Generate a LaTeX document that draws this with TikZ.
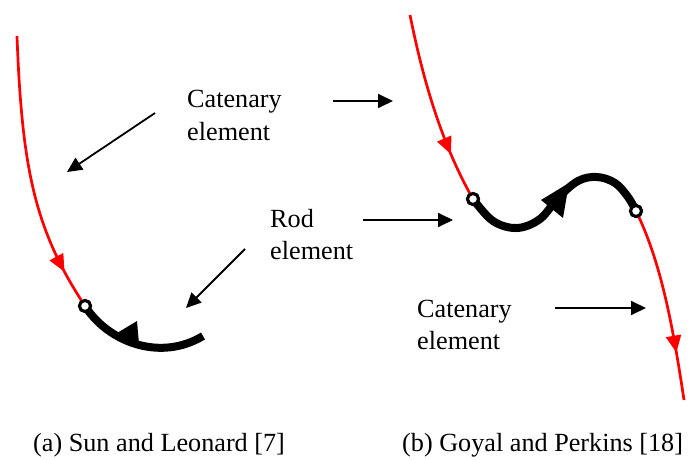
\documentclass[tikz,border=0pt]{standalone}
\usepackage{fontspec}
\setmainfont{Liberation Serif}
\usetikzlibrary{arrows.meta,decorations.markings}
\begin{document}
\begin{tikzpicture}[x=1pt,y=-1pt,
  cable/.style={red, line width=2.7pt, line join=round},
  rod/.style={black, line width=8pt},
  joint/.style={circle, draw=black, fill=white, line width=3pt,
                minimum size=11pt, inner sep=0pt},
  pointer/.style={line width=1.8pt, -{Triangle[length=15pt,width=14pt]}},
  lbl/.style={font=\fontsize{26.2}{32}\selectfont, anchor=base west, inner sep=0pt},
  flow/.style={postaction={decorate}, decoration={markings,
      mark=at position #1 with {\arrow[red]{Triangle[length=17pt,width=15pt]}}}}
]
\useasboundingbox (0,0) rectangle (690,460);

% ---------- (a) catenary ending in a rod ----------
\coordinate (a0) at (17,36);
\node[joint] (ja) at (85,306) {};
\draw[cable, flow=-40pt] (a0) .. controls (22,170) and (35,230) .. (ja.center);
\coordinate (ra) at (203,336);
\draw[rod] (ja.center) .. controls (108,342) and (160,362) .. (ra);
\fill (117,333) -- (137,321) -- (139,344) -- cycle;
\node[joint] at (ja) {};

% ---------- (b) rod between two catenaries ----------
\coordinate (b0) at (410,15);
\node[joint] (jb1) at (473,199) {};
\node[joint] (jb2) at (636,211) {};
\coordinate (b9) at (684,400);
\draw[cable, flow=-50pt] (b0) .. controls (425,90) and (445,150) .. (jb1.center);
\draw[rod] plot[smooth, tension=0.6] coordinates
  {(jb1.center) (493,221) (517,228) (540,219) (558,198) (578,181) (597,177)
   (615,183) (628,197) (jb2.center)};
\fill (541,200) -- (569,183) -- (563,218) -- cycle;
\draw[cable, flow=-48pt] (jb2.center) .. controls (660,260) and (672,320) .. (b9);
\node[joint] at (jb1) {};
\node[joint] at (jb2) {};

% ---------- labels ----------
\node[lbl] (catA1) at (187,107) {Catenary};
\node[lbl] (catA2) at (187,140) {element};
\node[lbl] (rod1) at (270,227) {Rod};
\node[lbl] (rod2) at (270,259) {element};
\node[lbl] (catB1) at (417,317) {Catenary};
\node[lbl] (catB2) at (417,349) {element};
\node[lbl] (capA) at (33,451) {(a) Sun and Leonard [7]};
\node[lbl] (capB) at (402,451) {(b) Goyal and Perkins [18]};

% ---------- pointers ----------
\coordinate (p1s) at (155,113); \coordinate (p1e) at (67,172);
\coordinate (p2s) at (245,249); \coordinate (p2e) at (186,308);
\coordinate (p3s) at (333,101); \coordinate (p3e) at (393,101);
\coordinate (p4s) at (363,220); \coordinate (p4e) at (453,220);
\coordinate (p5s) at (555,308); \coordinate (p5e) at (646,308);
\draw[pointer] (p1s) -- (p1e);
\draw[pointer] (p2s) -- (p2e);
\draw[pointer] (p3s) -- (p3e);
\draw[pointer] (p4s) -- (p4e);
\draw[pointer] (p5s) -- (p5e);
\end{tikzpicture}
\end{document}
